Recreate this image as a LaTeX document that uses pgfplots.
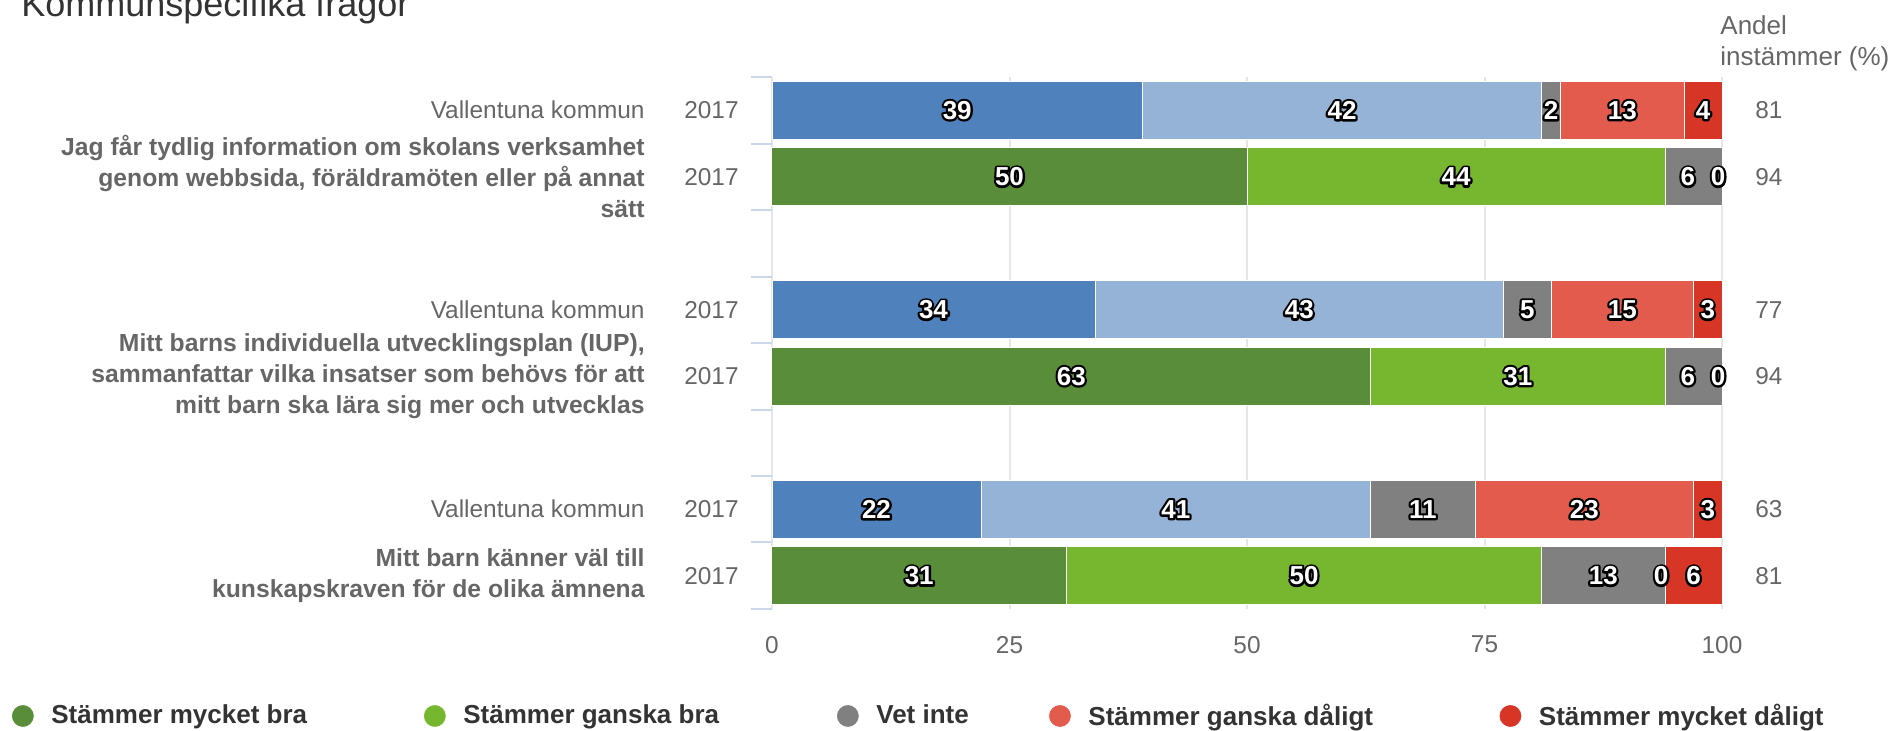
\documentclass[border=0pt]{standalone}
\usepackage{pgfplots}
\pgfplotsset{compat=1.18}
\usepackage{fontspec}
\setmainfont{Liberation Sans}
\definecolor{dblue}{HTML}{4F81BD}
\definecolor{lblue}{HTML}{95B3D7}
\definecolor{vgray}{HTML}{808080}
\definecolor{lred}{HTML}{E35B4D}
\definecolor{dred}{HTML}{D73526}
\definecolor{dgreen}{HTML}{5A8D3A}
\definecolor{lgreen}{HTML}{77B730}
\definecolor{gridgray}{HTML}{E6E6E6}
\definecolor{tickblue}{HTML}{CCD6EB}
\definecolor{labelgray}{HTML}{666666}
\definecolor{titlegray}{HTML}{333333}
% white text on a stroked black copy (text outline)
\newcommand\olt[1]{\rlap{\textcolor{black}{\special{pdf:literal direct 2 Tr 0 0 0 RG 2.2 w 1 j}#1\special{pdf:literal direct 0 Tr 1 w 0 j}}}\textcolor{white}{#1}}
\pgfplotsset{base/.style={scale only axis, width=475pt, height=266pt,
  xmin=0, xmax=100, ymin=-0.5, ymax=7.5, y dir=reverse,
  at={(386pt,61pt)}, anchor=south west, clip=false}}
\begin{document}
\begin{tikzpicture}
\path[use as bounding box] (0,0) rectangle (948pt,365.5pt);
\node[anchor=base west, inner sep=0pt, font=\fontsize{18}{20}\selectfont, text=titlegray] at (10.5pt,357pt) {Kommunspecifika frågor};

% Axis A: grid, ticks, blue rows
\begin{axis}[base,
  xbar stacked, bar width=29pt,
  xtick={0,25,50,75,100}, xmajorgrids,
  major grid style={draw=gridgray, line width=1pt},
  ytick={-0.5,0.5,1.5,2.5,3.5,4.5,5.5,6.5,7.5}, yticklabels={},
  ytick pos=left, xtick pos=bottom,
  x tick style={draw=none},
  y tick style={draw=tickblue, line width=1pt},
  tick align=outside, major tick length=10.5pt,
  axis line style={draw=none},
  /pgf/number format/assume math mode=true,
  xticklabel style={font=\fontsize{12.2}{14}\selectfont, text=labelgray, yshift=0.5pt},
  yticklabel style={font=\fontsize{12.2}{14}\selectfont, text=labelgray, anchor=east, inner sep=0pt, xshift=-16.5pt},
  extra y ticks={0,1,3,4,6,7},
  extra y tick labels={2017,2017,2017,2017,2017,2017},
  extra y tick style={major tick length=0pt, y tick style={draw=none}},
]
\addplot[fill=dblue, draw=white, line width=0.5pt] coordinates {(39,0) (34,3) (22,6)};
\addplot[fill=lblue, draw=white, line width=0.5pt] coordinates {(42,0) (43,3) (41,6)};
\addplot[fill=vgray, draw=white, line width=0.5pt] coordinates {(2,0) (5,3) (11,6)};
\addplot[fill=lred, draw=white, line width=0.5pt] coordinates {(13,0) (15,3) (23,6)};
\addplot[fill=dred, draw=white, line width=0.5pt] coordinates {(4,0) (3,3) (3,6)};
\end{axis}

% Axis B: green rows + legend
\begin{axis}[base, hide axis,
  xbar stacked, bar width=29pt,
  legend image code/.code={\fill[#1] (0pt,0pt) circle (5.75pt);},
  legend columns=5,
  legend style={draw=none, fill=none, inner sep=0pt,
    at={(-0.8016,-0.2011)}, anchor=west,
    nodes={inner sep=0pt},
    font=\bfseries\fontsize{13}{15}\selectfont, text=titlegray,
    cells={anchor=west},
    /tikz/every odd column/.append style={column sep=8.25pt},
    /tikz/every even column/.append style={column sep=0pt}},
]
\addplot[fill=dgreen, draw=white, line width=0.5pt] coordinates {(50,1) (63,4) (31,7)};
\addlegendentry{\makebox[185.75pt][l]{Stämmer mycket bra}}
\addplot[fill=lgreen, draw=white, line width=0.5pt] coordinates {(44,1) (31,4) (50,7)};
\addlegendentry{\makebox[186.25pt][l]{Stämmer ganska bra}}
\addplot[fill=vgray, draw=white, line width=0.5pt] coordinates {(6,1) (6,4) (13,7)};
\addlegendentry{\makebox[85.8pt][l]{Vet inte}}
\addplot[fill=lred, draw=white, line width=0.5pt] coordinates {(0,1) (0,4) (0,7)};
\addlegendentry{\makebox[205pt][l]{Stämmer ganska dåligt}}
\addplot[fill=dred, draw=white, line width=0.5pt] coordinates {(0,1) (0,4) (6,7)};
\addlegendentry{Stämmer mycket dåligt}
\end{axis}

% Axis C: labels
\begin{axis}[base, hide axis,
  every node near coord/.append style={anchor=center, inner sep=0pt, font=\bfseries\fontsize{13}{14}\selectfont},
]
\addplot[draw=none, mark=none, point meta=explicit symbolic, nodes near coords={\olt{\pgfplotspointmeta}}] coordinates {
 (19.5,0) [39] (60,0) [42] (82,0) [2] (89.5,0) [13] (98,0) [4]
 (25,1) [50] (72,1) [44] (96.4,1) [6] (99.6,1) [0]
 (17,3) [34] (55.5,3) [43] (79.5,3) [5] (89.5,3) [15] (98.5,3) [3]
 (31.5,4) [63] (78.5,4) [31] (96.4,4) [6] (99.6,4) [0]
 (11,6) [22] (42.5,6) [41] (68.5,6) [11] (85.5,6) [23] (98.5,6) [3]
 (15.5,7) [31] (56,7) [50] (87.5,7) [13] (93.6,7) [0] (97,7) [6]
};
\tikzset{lab/.style={inner sep=0pt, font=\fontsize{12.2}{14}\selectfont, text=labelgray}}
\node[lab, anchor=west, xshift=16.5pt] at (axis cs:100,0) {81};
\node[lab, anchor=west, xshift=16.5pt] at (axis cs:100,1) {94};
\node[lab, anchor=west, xshift=16.5pt] at (axis cs:100,3) {77};
\node[lab, anchor=west, xshift=16.5pt] at (axis cs:100,4) {94};
\node[lab, anchor=west, xshift=16.5pt] at (axis cs:100,6) {63};
\node[lab, anchor=west, xshift=16.5pt] at (axis cs:100,7) {81};
\node[lab, font=\fontsize{13}{15}\selectfont, anchor=base west, xshift=-1pt, yshift=21.5pt] at (axis cs:100,-0.5) {Andel};
\node[lab, font=\fontsize{13}{15}\selectfont, anchor=base west, xshift=-1pt, yshift=6pt] at (axis cs:100,-0.5) {instämmer (\%)};
\node[lab, anchor=east, xshift=-63.5pt] at (axis cs:0,0) {Vallentuna kommun};
\node[lab, anchor=east, xshift=-63.5pt] at (axis cs:0,3) {Vallentuna kommun};
\node[lab, anchor=east, xshift=-63.5pt] at (axis cs:0,6) {Vallentuna kommun};
\node[lab, anchor=east, align=right, xshift=-63.5pt, font=\bfseries\fontsize{12.35}{15.5}\selectfont] at (axis cs:0,1) {Jag får tydlig information om skolans verksamhet\\genom webbsida, föräldramöten eller på annat\\sätt};
\node[lab, anchor=east, align=right, xshift=-63.5pt, font=\bfseries\fontsize{12.35}{15.5}\selectfont] at (axis cs:0,4) {Mitt barns individuella utvecklingsplan (IUP),\\sammanfattar vilka insatser som behövs för att\\mitt barn ska lära sig mer och utvecklas};
\node[lab, anchor=east, align=right, xshift=-63.5pt, font=\bfseries\fontsize{12.35}{15.5}\selectfont] at (axis cs:0,7) {Mitt barn känner väl till\\kunskapskraven för de olika ämnena};
\end{axis}
\end{tikzpicture}
\end{document}
